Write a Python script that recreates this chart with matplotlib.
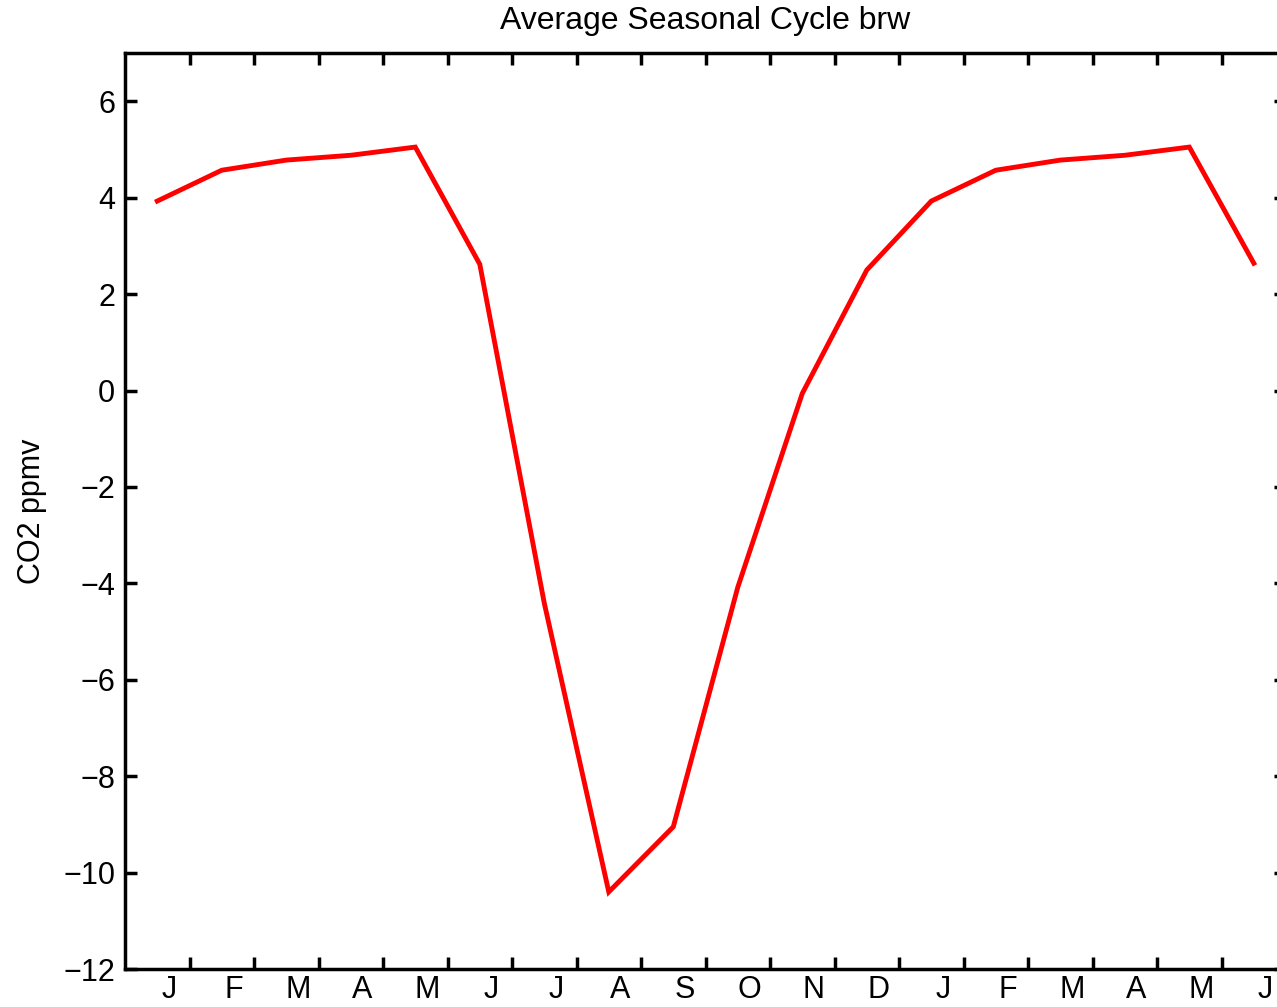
import matplotlib
matplotlib.use("Agg")
from matplotlib import pyplot as plt
from matplotlib.ticker import FixedLocator, FixedFormatter, NullFormatter

plt.rcParams['font.family'] = ['Liberation Sans', 'DejaVu Sans']

# 18 months of the mean cycle (Jan .. Jun of the following year)
months = ["J", "F", "M", "A", "M", "J", "J", "A", "S", "O", "N", "D",
          "J", "F", "M", "A", "M", "J"]
co2 = [3.93, 4.57, 4.78, 4.88, 5.05, 2.62, -4.41, -10.40, -9.05, -4.08, -0.06, 2.50,
       3.93, 4.57, 4.78, 4.88, 5.05, 2.64]
yticks = [-12, -10, -8, -6, -4, -2, 0, 2, 4, 6]

x = [i + 0.5 for i in range(len(months))]

fig = plt.figure(figsize=(12.77, 10.07), dpi=100)
ax = fig.add_axes([0.0979, 0.0377, 0.9092, 0.9096])

ax.plot(x, co2, color='red', linewidth=3.5, solid_joinstyle='miter')

ax.set_xlim(0, len(months))
ax.set_ylim(-12, 7)

# month boundaries as ticks, letters in between
ax.xaxis.set_major_locator(FixedLocator(range(1, len(months))))
ax.xaxis.set_major_formatter(NullFormatter())
ax.xaxis.set_minor_locator(FixedLocator([i + 0.68 for i in range(len(months))]))
ax.xaxis.set_minor_formatter(FixedFormatter(months))
ax.tick_params(axis='x', which='minor', length=0, labelsize=22, pad=4)

ax.set_yticks(yticks)
ax.set_yticklabels([str(v).replace('-', '\u2212') for v in yticks])

ax.tick_params(which='major', direction='in', length=8.5, width=2.5,
               top=True, right=True, labelsize=22)
ax.tick_params(axis='y', pad=7)

for s in ax.spines.values():
    s.set_linewidth(2.5)

ax.set_title("Average Seasonal Cycle brw", fontsize=23, pad=17)
ax.set_ylabel("CO2 ppmv", fontsize=22)
ax.yaxis.set_label_coords(-0.067, 0.5)

fig.savefig("out.png", dpi=100)
